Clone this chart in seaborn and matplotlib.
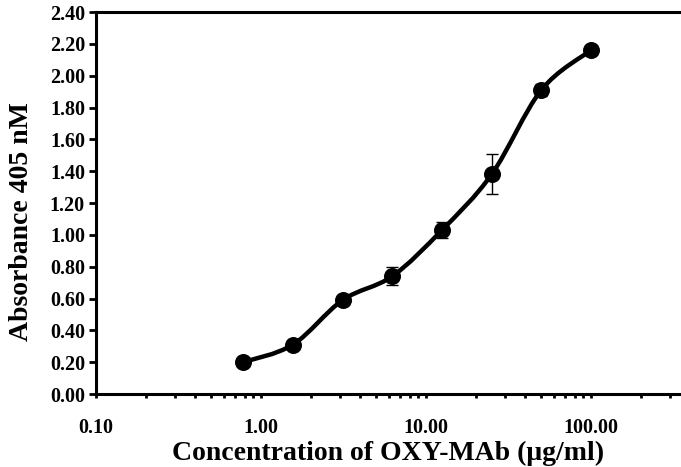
import numpy as np
import pandas as pd
import seaborn as sns
import matplotlib
matplotlib.use("Agg")
import matplotlib.pyplot as plt
from matplotlib.path import Path
from matplotlib.patches import PathPatch
from matplotlib.ticker import LogLocator, FixedLocator, FormatStrFormatter, NullFormatter

# Two-fold dilution series of OXY-MAb
concentration = [0.78, 1.56, 3.125, 6.25, 12.5, 25.0, 50.0, 100.0]
absorbance = [0.20, 0.31, 0.59, 0.74, 1.03, 1.38, 1.91, 2.16]
error = [0.0, 0.0, 0.0, 0.055, 0.05, 0.125, 0.04, 0.0]

x_ticks = [0.1, 1.0, 10.0, 100.0]
y_ticks = [0.0, 0.2, 0.4, 0.6, 0.8, 1.0, 1.2, 1.4, 1.6, 1.8, 2.0, 2.2, 2.4]

df = pd.DataFrame({"conc": concentration, "abs": absorbance, "err": error})

sns.set_theme(style="ticks")
plt.rcParams["font.family"] = ["Liberation Serif", "DejaVu Serif"]
plt.rcParams["font.weight"] = "bold"
plt.rcParams["text.color"] = "black"
plt.rcParams["axes.labelcolor"] = "black"

fig = plt.figure(figsize=(6.81, 4.67), dpi=100)
ax = fig.add_axes([96 / 681, 1 - 394 / 467, 660 / 681, 382 / 467])
ax.set_xscale("log")
ax.set_xlim(0.1, 1000)
ax.set_ylim(0, 2.4)

# Smoothed connecting curve (cubic Bezier through the points, in log-x space)
lx = np.log10(df["conc"].to_numpy())
ly = df["abs"].to_numpy()
pts = np.column_stack([lx, ly])
n = len(pts)
verts = [pts[0]]
codes = [Path.MOVETO]
for i in range(n - 1):
    p0 = pts[max(i - 1, 0)]
    p1 = pts[i]
    p2 = pts[i + 1]
    p3 = pts[min(i + 2, n - 1)]
    c1 = p1 + (p2 - p0) / 6.0
    c2 = p2 - (p3 - p1) / 6.0
    verts += [c1, c2, p2]
    codes += [Path.CURVE4] * 3
verts = np.array(verts)
verts[:, 0] = 10 ** verts[:, 0]
ax.add_patch(PathPatch(Path(verts, codes), facecolor="none", edgecolor="black",
                       lw=3.2, capstyle="round", joinstyle="round", zorder=2))

ax.errorbar(df["conc"], df["abs"], yerr=df["err"], fmt="none", ecolor="black",
            elinewidth=1.0, capsize=4, capthick=1.0, zorder=3)
sns.scatterplot(data=df, x="conc", y="abs", ax=ax, color="black", s=150,
                edgecolor="black", linewidth=0, zorder=4, legend=False)

ax.xaxis.set_major_locator(FixedLocator(x_ticks))
ax.xaxis.set_major_formatter(FormatStrFormatter("%.2f"))
ax.xaxis.set_minor_locator(LogLocator(base=10, subs=np.arange(2, 10)))
ax.xaxis.set_minor_formatter(NullFormatter())
ax.yaxis.set_major_locator(FixedLocator(y_ticks))
ax.yaxis.set_major_formatter(FormatStrFormatter("%.2f"))

for side in ["left", "bottom", "top"]:
    ax.spines[side].set_visible(True)
    ax.spines[side].set_linewidth(2.2)
    ax.spines[side].set_color("black")
ax.spines["right"].set_visible(False)

label_font = {"family": "Liberation Serif", "weight": "bold", "color": "black"}
ax.tick_params(axis="y", which="major", direction="out", length=5, width=2,
               labelsize=14.5, colors="black", pad=3)
ax.tick_params(axis="x", which="major", direction="out", length=3, width=2,
               labelsize=14.5, colors="black", pad=14)
ax.tick_params(axis="x", which="minor", direction="out", length=3, width=2, colors="black")
for lab in ax.get_xticklabels() + ax.get_yticklabels():
    lab.set_fontfamily("Liberation Serif")
    lab.set_fontweight("bold")
    lab.set_color("black")

ax.set_xlabel("Concentration of OXY-MAb (\u03bcg/ml)", fontdict=label_font, fontsize=20)
ax.set_ylabel("Absorbance 405 nM", fontdict=label_font, fontsize=20)
ax.xaxis.set_label_coords((388 - 96) / 660, -(441 - 394) / 382)
ax.yaxis.set_label_coords(-(96 - 34) / 660, (394 - 222) / 382)

fig.savefig("out.png", dpi=100, facecolor="white")
